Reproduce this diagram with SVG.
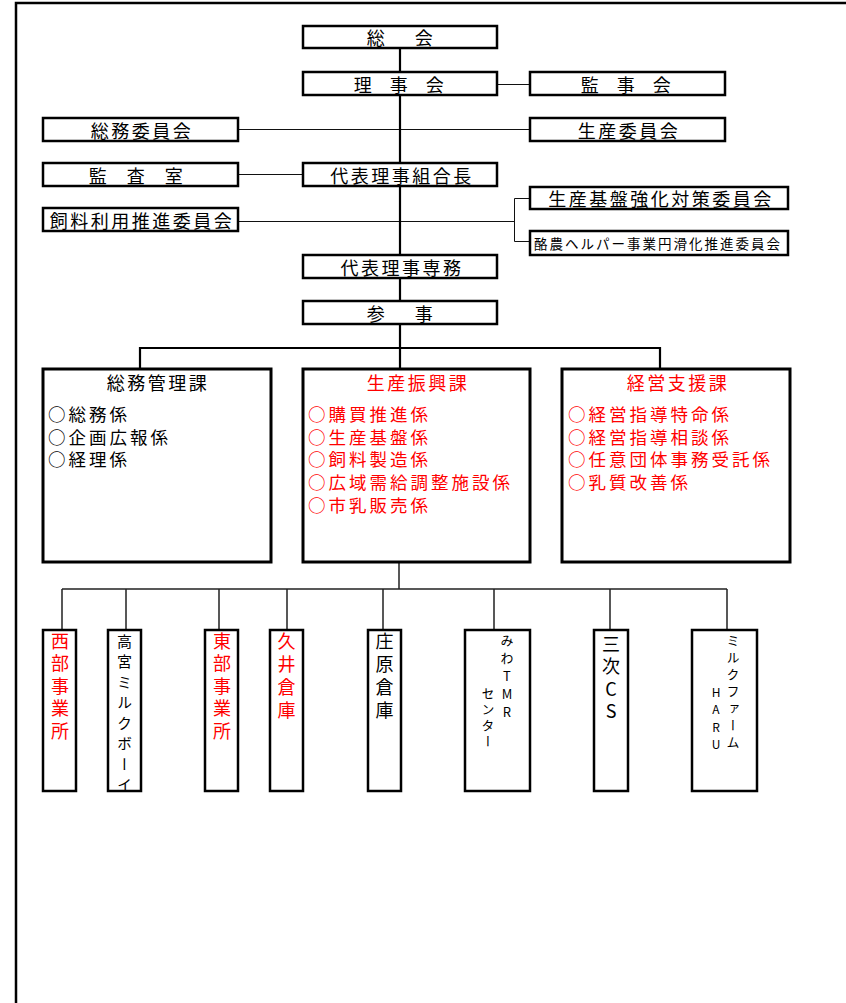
<svg xmlns="http://www.w3.org/2000/svg" width="846" height="1003" viewBox="0 0 846 1003">
<style>
text{font-family:"Noto Sans CJK JP","Noto Sans",sans-serif;fill:#000;dominant-baseline:central}
.box{fill:#fff;stroke:#000;stroke-width:2.5}
.big{fill:#fff;stroke:#000;stroke-width:3}
.t18{font-size:18px;letter-spacing:2.5px}
.it{font-size:17.5px;letter-spacing:3px}
.red{fill:#ff0000}
.c{text-anchor:middle}
.thin{stroke:#111;stroke-width:1;fill:none}
.thin2{stroke:#222;stroke-width:1.5;fill:none}
.thick{stroke:#000;stroke-width:2.2;fill:none}
.v{writing-mode:vertical-rl;text-orientation:upright}
</style>
<rect x="0" y="0" width="846" height="1003" fill="#fff"/>
<path d="M16 1003V3H846" fill="none" stroke="#000" stroke-width="2.5"/>

<g id="connectors">
<path class="thin" d="M497 84.5H530M238 129.5H530M238 174.5H303M238 221.5H514.5M530 198.5H514.5V241.5H530"/>
<path class="thick" d="M140 369V348H660V369M400 348V369"/>
<path class="thin2" d="M399 562V589M62 589H727M62 589V630M126 589V630M219 589V630M287 589V630M383 589V630M494 589V630M610 589V630M727 589V630"/>
<path d="M400 48V72M400 95V348" class="thick"/>
</g>

<g id="n-sokai"><rect class="box" x="303" y="26" width="194" height="22"/><text class="t18 c" x="377 425" y="37">総会</text></g>
<g id="n-rijikai"><rect class="box" x="303" y="72" width="194" height="23"/><text class="t18 c" x="364 400 436" y="83.5">理事会</text></g>
<g id="n-kanjikai"><rect class="box" x="530" y="72" width="195" height="23"/><text class="t18 c" x="591 627 663" y="83.5">監事会</text></g>
<g id="n-somu-iinkai"><rect class="box" x="43" y="118" width="195" height="23"/><text class="t18 c" x="142" y="129.5">総務委員会</text></g>
<g id="n-seisan-iinkai"><rect class="box" x="530" y="118" width="195" height="23"/><text class="t18 c" x="629" y="129.5">生産委員会</text></g>
<g id="n-kansa"><rect class="box" x="43" y="163" width="195" height="23"/><text class="t18 c" x="99 137 175" y="174.5">監査室</text></g>
<g id="n-kumiaicho"><rect class="box" x="303" y="163" width="194" height="23"/><text class="t18 c" x="402" y="174.5">代表理事組合長</text></g>
<g id="n-shiryo"><rect class="box" x="43" y="208" width="195" height="23"/><text class="t18 c" x="142" y="219.5">飼料利用推進委員会</text></g>
<g id="n-kiban"><rect class="box" x="530" y="187" width="258" height="22"/><text class="t18 c" x="661" y="198">生産基盤強化対策委員会</text></g>
<g id="n-helper"><rect class="box" x="530" y="231" width="258" height="24"/><text class="c" x="658" y="243" style="font-size:13.5px;letter-spacing:2px">酪農ヘルパー事業円滑化推進委員会</text></g>
<g id="n-senmu"><rect class="box" x="303" y="255" width="194" height="23"/><text class="t18 c" x="402" y="266.5">代表理事専務</text></g>
<g id="n-sanji"><rect class="box" x="303" y="301" width="194" height="23"/><text class="t18 c" x="377 425" y="312.5">参事</text></g>

<g id="n-somukanri">
<rect class="big" x="43" y="369" width="228" height="193"/>
<text class="t18 c" x="158" y="381.5">総務管理課</text>
<text class="it" x="48" y="413.5">○総務係</text>
<text class="it" x="48" y="436.2">○企画広報係</text>
<text class="it" x="48" y="458.9">○経理係</text>
</g>
<g id="n-seisanshinko">
<rect class="big" x="303" y="369" width="227" height="193"/>
<text class="t18 c red" x="418" y="381.5">生産振興課</text>
<text class="it red" x="308" y="413.5">○購買推進係</text>
<text class="it red" x="308" y="436.2">○生産基盤係</text>
<text class="it red" x="308" y="458.9">○飼料製造係</text>
<text class="it red" x="308" y="481.6">○広域需給調整施設係</text>
<text class="it red" x="308" y="504.3">○市乳販売係</text>
</g>
<g id="n-keiei">
<rect class="big" x="562" y="369" width="228" height="193"/>
<text class="t18 c red" x="678" y="381.5">経営支援課</text>
<text class="it red" x="568" y="413.5">○経営指導特命係</text>
<text class="it red" x="568" y="436.2">○経営指導相談係</text>
<text class="it red" x="568" y="458.9">○任意団体事務受託係</text>
<text class="it red" x="568" y="481.6">○乳質改善係</text>
</g>

<g id="n-seibu"><rect class="box" x="43" y="630" width="33" height="161"/><text class="v red" x="60" y="632" style="font-size:18px;letter-spacing:4.5px">西部事業所</text></g>
<g id="n-takamiya"><rect class="box" x="108" y="630" width="33" height="161"/><text class="v" x="124.5" y="633.5" style="font-size:15px;letter-spacing:5.5px">高宮ミルクボーイ</text></g>
<g id="n-tobu"><rect class="box" x="205" y="630" width="33" height="161"/><text class="v red" x="222" y="632" style="font-size:18px;letter-spacing:4.5px">東部事業所</text></g>
<g id="n-kui"><rect class="box" x="270" y="630" width="33" height="161"/><text class="v red" x="286.5" y="632" style="font-size:18px;letter-spacing:5px">久井倉庫</text></g>
<g id="n-shobara"><rect class="box" x="368" y="630" width="33" height="161"/><text class="v" x="384.5" y="632" style="font-size:18px;letter-spacing:5px">庄原倉庫</text></g>
<g id="n-miwa"><rect class="box" x="465" y="630" width="65" height="161"/>
<text class="v" x="507" y="633.5" style="font-size:13px;letter-spacing:5px">みわTMR</text>
<text class="v" x="488" y="686.5" style="font-size:13px;letter-spacing:3px">センター</text></g>
<g id="n-miyoshi"><rect class="box" x="594" y="630" width="34" height="161"/><text class="v" x="611" y="635" style="font-size:18px;letter-spacing:4.5px">三次CS</text></g>
<g id="n-haru"><rect class="box" x="692" y="630" width="65" height="161"/>
<text class="v" x="733" y="633.5" style="font-size:13px;letter-spacing:4px">ミルクファーム</text>
<text class="v" x="716" y="686" style="font-size:12px;letter-spacing:5.5px">HARU</text></g>
</svg>
